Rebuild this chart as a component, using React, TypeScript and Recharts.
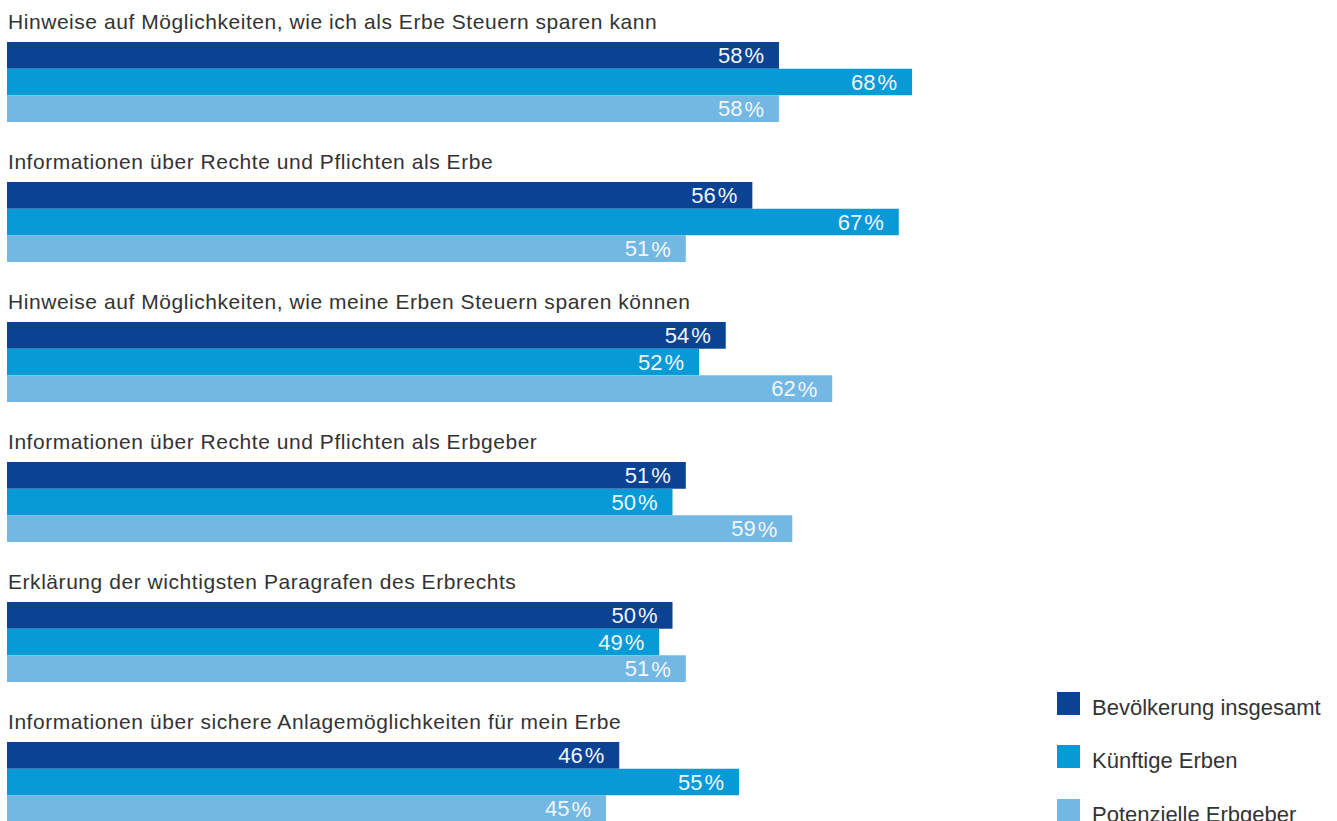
import React from "react";
import { BarChart, Bar, XAxis, YAxis, LabelList, Legend } from "recharts";

const categories = [
  "Hinweise auf Möglichkeiten, wie ich als Erbe Steuern sparen kann",
  "Informationen über Rechte und Pflichten als Erbe",
  "Hinweise auf Möglichkeiten, wie meine Erben Steuern sparen können",
  "Informationen über Rechte und Pflichten als Erbgeber",
  "Erklärung der wichtigsten Paragrafen des Erbrechts",
  "Informationen über sichere Anlagemöglichkeiten für mein Erbe",
];
const bevoelkerung = [58, 56, 54, 51, 50, 46];
const kuenftigeErben = [68, 67, 52, 50, 49, 55];
const potenzielleErbgeber = [58, 51, 62, 59, 51, 45];

const seriesNames = ["Bevölkerung insgesamt", "Künftige Erben", "Potenzielle Erbgeber"];
const colors = ["#0B4393", "#079AD6", "#73B8E3"];

const data = categories.map((name, i) => ({
  name,
  bev: bevoelkerung[i],
  kue: kuenftigeErben[i],
  pot: potenzielleErbgeber[i],
}));

const FONT = "'Liberation Sans', Arial, Helvetica, sans-serif";

const CategoryLabel = (props: any) => {
  const { x, y, value } = props;
  return (
    <text
      x={x + 1}
      y={y - 13}
      fill="#333333"
      fontSize={21}
      letterSpacing={0.55}
      fontFamily={FONT}
      textAnchor="start"
    >
      {value}
    </text>
  );
};

const ValueLabel = (props: any) => {
  const { x, y, width, height, value } = props;
  return (
    <text
      x={x + width - 15}
      y={y + height / 2}
      fill="#F2F6FB"
      fontSize={22}
      fontFamily={FONT}
      textAnchor="end"
      dominantBaseline="central"
    >
      {value}
      <tspan dx={2}>%</tspan>
    </text>
  );
};

const LegendContent = (props: any) => {
  const { payload } = props;
  return (
    <div style={{ fontFamily: FONT }}>
      {(payload || []).map((entry: any, i: number) => (
        <div key={i} style={{ display: "flex", height: 23, marginBottom: 30.3 }}>
          <div style={{ width: 23, height: 23, background: entry.color, flex: "none" }} />
          <span
            style={{
              marginLeft: 12,
              fontSize: 22,
              lineHeight: "23px",
              color: "#333333",
              position: "relative",
              top: 4,
              whiteSpace: "nowrap",
            }}
          >
            {entry.value}
          </span>
        </div>
      ))}
    </div>
  );
};

export default function App() {
  return (
    <div
      style={{
        position: "absolute",
        left: 0,
        top: 0,
        width: 1337,
        height: 821,
        overflow: "hidden",
        background: "#ffffff",
      }}
    >
      <BarChart
        width={1338}
        height={860}
        data={data}
        layout="vertical"
        margin={{ top: 12, right: 0, bottom: 8, left: 7 }}
        barGap={0}
      >
        <XAxis type="number" domain={[0, 100]} hide />
        <YAxis type="category" dataKey="name" hide />
        <Legend
          layout="vertical"
          align="center"
          verticalAlign="middle"
          content={<LegendContent />}
          wrapperStyle={{ left: 1057, top: 692, width: 280 }}
        />
        <Bar dataKey="bev" name={seriesNames[0]} fill={colors[0]} barSize={80 / 3} isAnimationActive={false}>
          <LabelList dataKey="bev" content={<ValueLabel />} />
          <LabelList dataKey="name" content={<CategoryLabel />} />
        </Bar>
        <Bar dataKey="kue" name={seriesNames[1]} fill={colors[1]} barSize={80 / 3} isAnimationActive={false}>
          <LabelList dataKey="kue" content={<ValueLabel />} />
        </Bar>
        <Bar dataKey="pot" name={seriesNames[2]} fill={colors[2]} barSize={80 / 3} isAnimationActive={false}>
          <LabelList dataKey="pot" content={<ValueLabel />} />
        </Bar>
      </BarChart>
    </div>
  );
}
